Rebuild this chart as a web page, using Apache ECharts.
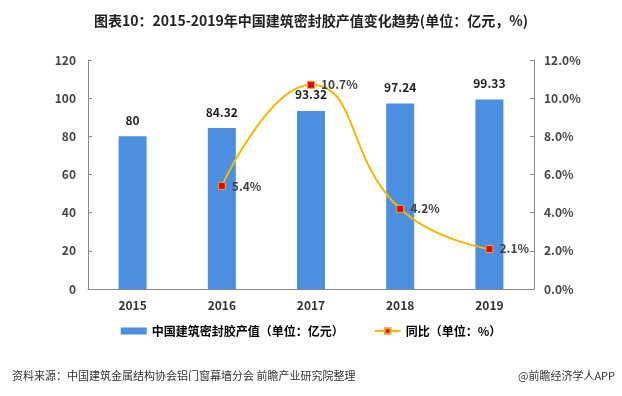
<!DOCTYPE html>
<html>
<head>
<meta charset="utf-8">
<script src="https://cdn.jsdelivr.net/npm/echarts@6/dist/echarts.min.js"></script>
<style>
  html, body { margin: 0; padding: 0; background: #fff; }
  #main { width: 622px; height: 396px; }
</style>
</head>
<body>
<div id="main"></div>
<script>
var years = ['2015', '2016', '2017', '2018', '2019'];
var output = [80, 84.32, 93.32, 97.24, 99.33];     // 亿元
var growth = [null, 5.4, 10.7, 4.2, 2.1];          // %
var leftTicks = [0, 20, 40, 60, 80, 100, 120];
var rightTicks = [0, 2, 4, 6, 8, 10, 12];

var font = '"Noto Sans CJK SC", "Microsoft YaHei", sans-serif';
var myChart = echarts.init(document.getElementById('main'));

var option = {
    textStyle: { fontFamily: font },
    title: [{
        text: '图表10：2015-2019年中国建筑密封胶产值变化趋势(单位：亿元，%)',
        left: 'center',
        top: 9,
        textStyle: { fontSize: 14, fontWeight: 'bold', color: '#222', fontFamily: font }
    }, {
        text: '资料来源：中国建筑金属结构协会铝门窗幕墙分会 前瞻产业研究院整理',
        left: 7,
        top: 365,
        textStyle: { fontSize: 11, fontWeight: 'normal', color: '#333', fontFamily: font }
    }, {
        text: '@前瞻经济学人APP',
        right: 2,
        top: 365,
        textStyle: { fontSize: 11, fontWeight: 'normal', color: '#333', fontFamily: font }
    }],
    legend: {
        top: 320,
        left: 'center',
        itemGap: 30,
        itemWidth: 26,
        itemHeight: 7,
        textStyle: { fontSize: 12, fontWeight: 'bold', color: '#000' },
        data: [
            { name: '中国建筑密封胶产值（单位：亿元）', icon: 'rect', itemStyle: { color: '#4a8fe0' } },
            { name: '同比（单位：%）' }
        ]
    },
    grid: { left: 88, right: 88, top: 60, bottom: 107 },
    xAxis: {
        type: 'category',
        data: years,
        axisLine: { lineStyle: { color: '#888' } },
        axisTick: { show: false },
        axisLabel: { fontSize: 12, fontWeight: 'bold', color: '#333', margin: 10 }
    },
    yAxis: [{
        type: 'value',
        min: leftTicks[0],
        max: leftTicks[leftTicks.length - 1],
        interval: 20,
        splitLine: { show: false },
        axisLine: { show: true, lineStyle: { color: '#888' } },
        axisTick: { show: true, inside: true, length: 4, lineStyle: { color: '#888' } },
        axisLabel: { fontSize: 12, fontWeight: 'bold', color: '#444', margin: 12 }
    }, {
        type: 'value',
        min: rightTicks[0],
        max: rightTicks[rightTicks.length - 1],
        interval: 2,
        splitLine: { show: false },
        axisLine: { show: true, lineStyle: { color: '#888' } },
        axisTick: { show: true, inside: true, length: 4, lineStyle: { color: '#888' } },
        axisLabel: {
            fontSize: 12, fontWeight: 'bold', color: '#444', margin: 10,
            formatter: function (v) { return v.toFixed(1) + '%'; }
        }
    }],
    series: [{
        name: '中国建筑密封胶产值（单位：亿元）',
        type: 'bar',
        data: output,
        barWidth: 28,
        itemStyle: { color: '#4a8fe0' },
        label: {
            show: true,
            position: 'top',
            distance: 10,
            fontSize: 12,
            fontWeight: 'bold',
            color: '#222'
        }
    }, {
        name: '同比（单位：%）',
        type: 'line',
        yAxisIndex: 1,
        data: growth,
        smooth: 0.5,
        symbol: 'rect',
        symbolSize: 7,
        lineStyle: { color: '#f5b800', width: 2 },
        itemStyle: { color: '#e60000', borderColor: '#f5a623', borderWidth: 1 },
        label: {
            show: true,
            position: 'right',
            distance: 6,
            fontSize: 12,
            fontWeight: 'bold',
            color: '#404040',
            formatter: function (p) { return p.value + '%'; }
        }
    }]
};

myChart.setOption(option);
</script>
</body>
</html>
